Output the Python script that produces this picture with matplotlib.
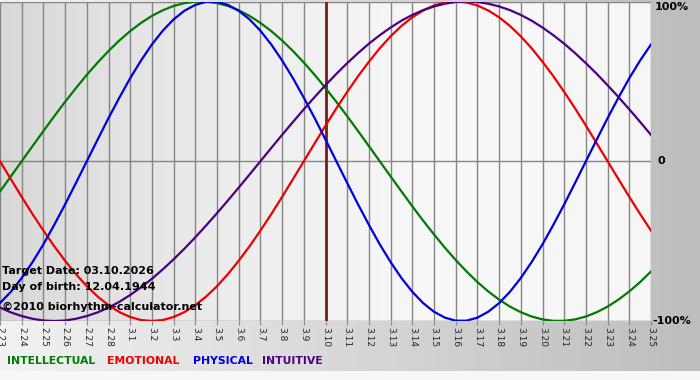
import numpy as np
import matplotlib
matplotlib.use('Agg')
import matplotlib.pyplot as plt
from matplotlib.colors import LinearSegmentedColormap

# Daty na osi X
dates = ['2.23', '2.24', '2.25', '2.26', '2.27', '2.28',
         '3.1', '3.2', '3.3', '3.4', '3.5', '3.6', '3.7', '3.8', '3.9', '3.10',
         '3.11', '3.12', '3.13', '3.14', '3.15', '3.16', '3.17', '3.18', '3.19',
         '3.20', '3.21', '3.22', '3.23', '3.24', '3.25']

intellectual = [-0.189, -0.095, 0.000,
                0.095, 0.189, 0.282, 0.372, 0.458, 0.541, 0.618, 0.690, 0.756, 0.815, 0.866, 0.910,
                0.945, 0.972, 0.990, 0.999,
                0.999, 0.990, 0.972, 0.945, 0.910, 0.866, 0.815, 0.756, 0.690, 0.618, 0.541, 0.458,
                0.372, 0.282, 0.189, 0.095, 0.000,
                -0.095, -0.189, -0.282, -0.372, -0.458, -0.541, -0.618, -0.690, -0.756, -0.815,
                -0.866, -0.910, -0.945, -0.972, -0.990, -0.999, -0.999, -0.990, -0.972, -0.945,
                -0.910, -0.866, -0.815, -0.756, -0.690]
emotional = [0.000, -0.112, -0.223, -0.331, -0.434, -0.532, -0.623, -0.707, -0.782, -0.847,
             -0.901, -0.944, -0.975, -0.994, -1.000,
             -0.994, -0.975, -0.944, -0.901, -0.847, -0.782, -0.707, -0.623, -0.532, -0.434,
             -0.331, -0.223, -0.112, 0.000,
             0.112, 0.223, 0.331, 0.434, 0.532, 0.623, 0.707, 0.782, 0.847, 0.901, 0.944, 0.975,
             0.994, 1.000,
             0.994, 0.975, 0.944, 0.901, 0.847, 0.782, 0.707, 0.623, 0.532, 0.434, 0.331, 0.223,
             0.112, 0.000,
             -0.112, -0.223, -0.331, -0.434]
physical = [-0.888, -0.817, -0.731, -0.631, -0.520, -0.398, -0.270, -0.136,
            0.000, 0.136, 0.270, 0.398, 0.520, 0.631, 0.731, 0.817, 0.888, 0.942, 0.979, 0.998,
            0.998, 0.979, 0.942, 0.888, 0.817, 0.731, 0.631, 0.520, 0.398, 0.270, 0.136,
            0.000, -0.136, -0.270, -0.398, -0.520, -0.631, -0.731, -0.817, -0.888, -0.942, -0.979,
            -0.998, -0.998, -0.979, -0.942, -0.888, -0.817, -0.731, -0.631, -0.520, -0.398,
            -0.270, -0.136,
            0.000, 0.136, 0.270, 0.398, 0.520, 0.631, 0.731]
intuitive = [-0.916, -0.946, -0.969, -0.986, -0.997, -1.000, -0.997, -0.986, -0.969, -0.946,
             -0.916, -0.880, -0.837, -0.789, -0.736, -0.677, -0.614, -0.547, -0.476, -0.402,
             -0.325, -0.246, -0.165, -0.083,
             0.000, 0.083, 0.165, 0.246, 0.325, 0.402, 0.476, 0.547, 0.614, 0.677, 0.736, 0.789,
             0.837, 0.880, 0.916, 0.946, 0.969, 0.986, 0.997, 1.000,
             0.997, 0.986, 0.969, 0.946, 0.916, 0.880, 0.837, 0.789, 0.736, 0.677, 0.614, 0.547,
             0.476, 0.402, 0.325, 0.246, 0.165]

target_date = '3.10'
x = np.arange(len(dates))
t = np.arange(len(physical)) * 0.5  # co pol dnia

fig = plt.figure(figsize=(7, 3.8), dpi=100)

# tlo calej grafiki (gradient)
bg = fig.add_axes([0, 0, 1, 1], zorder=0)
bg_cmap = LinearSegmentedColormap.from_list('bg', ['#f2f2f2', '#bdbdbd'])
bg.imshow(np.linspace(0, 1, 256).reshape(1, -1), cmap=bg_cmap, aspect='auto',
          extent=[0, 1, 0, 1])
bg.axhspan(0, 9 / 380, color='#f7f7f7', lw=0)
bg.set_xlim(0, 1)
bg.set_ylim(0, 1)
bg.axis('off')

ax = fig.add_axes([0, 59 / 380, 651 / 700, 319.5 / 380], zorder=1)
pl_cmap = LinearSegmentedColormap.from_list('pl', ['#d8d8d8', '#ececec', '#f8f8f8', '#f6f6f6'])
ax.imshow(np.linspace(0, 1, 256).reshape(1, -1), cmap=pl_cmap, aspect='auto',
          extent=[0, len(dates) - 1, -1, 1], zorder=0)

for xi in x:
    ax.axvline(xi, color='#858585', lw=1, zorder=1)
for yv in [-1, 0, 1]:
    ax.axhline(yv, color='#858585', lw=1, zorder=1)
ax.axvline(dates.index(target_date), color='#7a1c1c', lw=2, zorder=2)

ax.plot(t, intellectual, color='#007a00', lw=1.6, zorder=3)
ax.plot(t, emotional, color='#ee0000', lw=1.6, zorder=3)
ax.plot(t, physical, color='#0000dd', lw=1.6, zorder=3)
ax.plot(t, intuitive, color='#4b0082', lw=1.6, zorder=3)

ax.set_xlim(0, len(dates) - 1)
ax.set_ylim(-1, 1)
ax.set_yticks([])
ax.set_xticks(x)
ax.set_xticklabels(dates, rotation=-90, fontsize=6.5, color='#222222')
ax.tick_params(axis='x', length=3, color='#858585', pad=1)
for s in ax.spines.values():
    s.set_visible(False)

# napisy w lewym dolnym rogu
txt = dict(transform=ax.transAxes, fontsize=8, fontweight='bold', color='black',
           va='center', zorder=4)
ax.text(0.003, (321 - 271) / 319.5, 'Target Date: 03.10.2026', **txt)
ax.text(0.003, (321 - 287) / 319.5, 'Day of birth: 12.04.1944', **txt)
ax.text(0.003, (321 - 307) / 319.5, '\u00a92010 biorhythm-calculator.net', **txt)

# etykiety po prawej
fig.text(655 / 700, 1 - 7 / 380, '100%', fontsize=8, fontweight='bold', va='center')
fig.text(657 / 700, 1 - 161 / 380, '0', fontsize=8, fontweight='bold', va='center')
fig.text(652 / 700, 1 - 321 / 380, '-100%', fontsize=8, fontweight='bold', va='center')

# legenda
leg = [('INTELLECTUAL', '#007a00', 7), ('EMOTIONAL', '#ee0000', 107),
       ('PHYSICAL', '#0000dd', 193), ('INTUITIVE', '#4b0082', 262)]
for name, col, px in leg:
    fig.text(px / 700, 1 - 361 / 380, name, fontsize=7.8, fontweight='bold', color=col, va='center')

fig.savefig('out.png', dpi=100)
